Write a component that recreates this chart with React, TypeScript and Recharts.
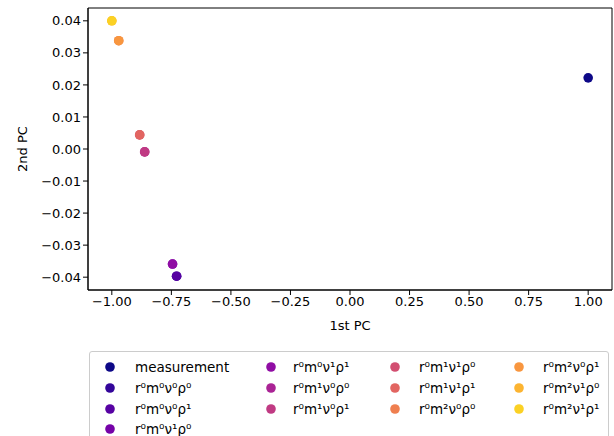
import React from "react";
import { Legend, ReferenceArea, Scatter, ScatterChart, XAxis, YAxis } from "recharts";

const names = [
  "measurement",
  "r⁰m⁰ν⁰ρ⁰",
  "r⁰m⁰ν⁰ρ¹",
  "r⁰m⁰ν¹ρ⁰",
  "r⁰m⁰ν¹ρ¹",
  "r⁰m¹ν⁰ρ⁰",
  "r⁰m¹ν⁰ρ¹",
  "r⁰m¹ν¹ρ⁰",
  "r⁰m¹ν¹ρ¹",
  "r⁰m²ν⁰ρ⁰",
  "r⁰m²ν⁰ρ¹",
  "r⁰m²ν¹ρ⁰",
  "r⁰m²ν¹ρ¹",
];

// pairs that differ only in rho sit on top of each other
const pc1 = [1.0, -0.728, -0.728, -0.745, -0.745, -0.862, -0.862, -0.883, -0.883, -0.971, -0.971, -1.0, -1.0];
const pc2 = [0.0222, -0.0397, -0.0397, -0.0359, -0.0359, -0.0009, -0.0009, 0.0044, 0.0044, 0.0338, 0.0338, 0.04, 0.04];

const colors = [
  "#0d0887",
  "#33059a",
  "#5702a3",
  "#7502a8",
  "#900da4",
  "#aa2395",
  "#c03a83",
  "#d24f71",
  "#e26561",
  "#ef7f4f",
  "#f8963f",
  "#fcb431",
  "#fbd124",
];

const xTicks = [-1, -0.75, -0.5, -0.25, 0, 0.25, 0.5, 0.75, 1];
const yTicks = [-0.04, -0.03, -0.02, -0.01, 0, 0.01, 0.02, 0.03, 0.04];
const xDomain = [-1.1, 1.1];
const yDomain = [-0.044, 0.044];

// legend is laid out column-first, 4 columns
const legendCols = [
  [0, 1, 2, 3],
  [4, 5, 6],
  [7, 8, 9],
  [10, 11, 12],
];
const colMarkerX = [20, 181, 305, 429];
const colTextX = [45, 203, 329, 453];
const rowY = [15, 36, 57, 77];

const fmt = (v: number) => v.toFixed(2).replace("-", "\u2212");

const dot = (color: string) => (props: any) =>
  <circle cx={props.cx} cy={props.cy} r={4.8} fill={color} />;

function LegendBox() {
  return (
    <div
      style={{
        position: "relative",
        width: 520,
        height: 100,
        border: "1px solid #cccccc",
        borderRadius: 3,
        boxSizing: "border-box",
        background: "#fff",
        fontFamily: "DejaVu Sans",
        fontSize: 13.5,
        color: "#000",
      }}
    >
      {legendCols.map((col, c) =>
        col.map((idx, r) => (
          <React.Fragment key={idx}>
            <svg
              width={12}
              height={12}
              style={{ position: "absolute", left: colMarkerX[c] - 6, top: rowY[r] - 6 }}
            >
              <circle cx={6} cy={6} r={4.8} fill={colors[idx]} />
            </svg>
            <span
              style={{
                position: "absolute",
                left: colTextX[c],
                top: rowY[r] - 9,
                lineHeight: "18px",
                whiteSpace: "nowrap",
              }}
            >
              {names[idx]}
            </span>
          </React.Fragment>
        ))
      )}
    </div>
  );
}

export default function App() {
  return (
    <div style={{ position: "absolute", left: 0, top: 0, fontFamily: "DejaVu Sans" }}>
      <ScatterChart width={614} height={436} margin={{ top: 8, right: 2, bottom: 6, left: 0 }}>
        <XAxis
          dataKey="x"
          type="number"
          domain={xDomain}
          ticks={xTicks}
          tickFormatter={fmt}
          height={40}
          tickSize={5}
          tick={{ fill: "#000", fontSize: 13 }}
          stroke="#000"
          label={{ value: "1st PC", position: "insideBottom", offset: 0, fill: "#000", fontSize: 13 }}
        />
        <YAxis
          dataKey="y"
          type="number"
          domain={yDomain}
          ticks={yTicks}
          tickFormatter={fmt}
          width={88}
          tickSize={5}
          tick={{ fill: "#000", fontSize: 13 }}
          stroke="#000"
          label={{ value: "2nd PC", angle: -90, position: "center", dx: -22, fill: "#000", fontSize: 13 }}
        />
        {/* plot frame (all four spines) */}
        <ReferenceArea
          x1={xDomain[0]}
          x2={xDomain[1]}
          y1={yDomain[0]}
          y2={yDomain[1]}
          fill="none"
          fillOpacity={0}
          stroke="#000"
          strokeWidth={1}
          ifOverflow="extendDomain"
        />
        {names.map((n, i) => (
          <Scatter
            key={n}
            name={n}
            data={[{ x: pc1[i], y: pc2[i] }]}
            fill={colors[i]}
            shape={dot(colors[i])}
            isAnimationActive={false}
          />
        ))}
        <Legend
          verticalAlign="bottom"
          content={() => <LegendBox />}
          wrapperStyle={{ left: 89, top: 351, width: 520, height: 100 }}
        />
      </ScatterChart>
    </div>
  );
}
